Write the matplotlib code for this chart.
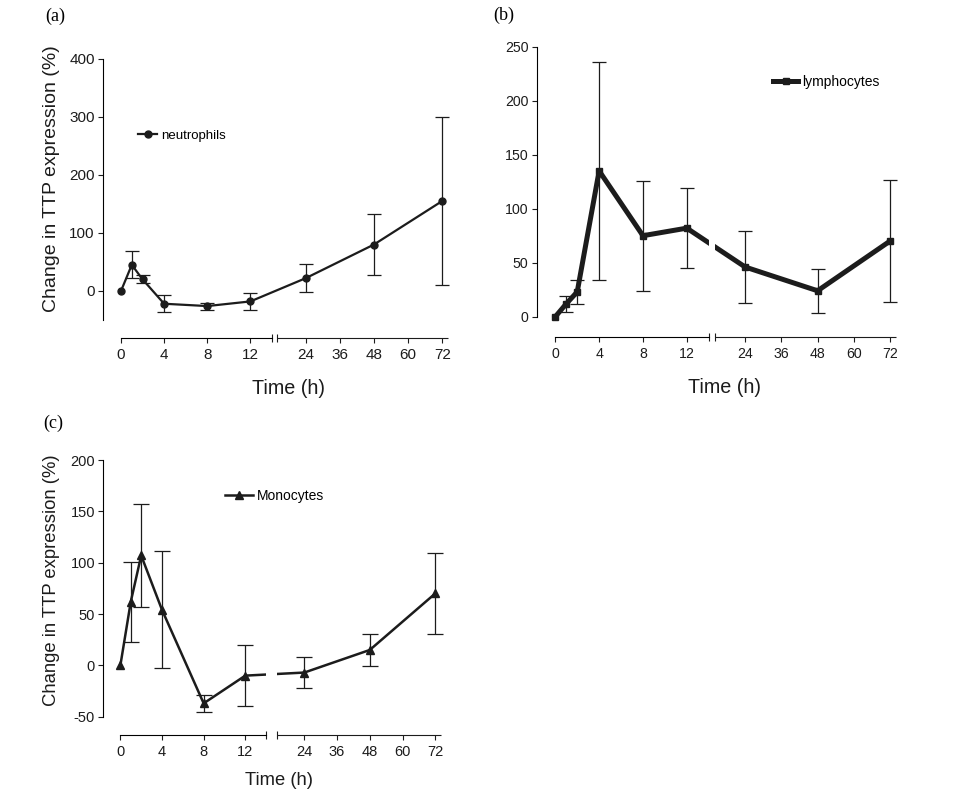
import numpy as np
import matplotlib
matplotlib.use("Agg")
import matplotlib.pyplot as plt
import matplotlib.transforms as mtransforms
from matplotlib.lines import Line2D
from matplotlib.patches import Rectangle

plt.rcParams['font.family'] = ['Liberation Sans', 'DejaVu Sans']

# ---------------- data ----------------
time_h = [0, 1, 2, 4, 8, 12, 24, 48, 72]
x_ticks = [0, 4, 8, 12, 24, 36, 48, 60, 72]

neut_mean = [0, 45, 20, -22, -26, -18, 22, 80, 155]
neut_err = [0, 23, 7, 15, 6, 14, 24, 52, 144]

lymph_mean = [0, 12, 23, 135, 75, 82, 46, 24, 70]
lymph_err = [0, 7.5, 11, 101, 51, 37, 33, 20.5, 56.5]

mono_mean = [0, 62, 107, 54, -37, -10, -7, 15, 70]
mono_err = [0, 39, 50, 57, 8, 30, 15, 16, 39]

neut_yticks = [0, 100, 200, 300, 400]
lymph_yticks = [0, 50, 100, 150, 200, 250]
mono_yticks = [-50, 0, 50, 100, 150, 200]

BRK = 14.0
XMAX = 74.0
W, H = 965, 807
INK = '#1c1c1c'

fig = plt.figure(figsize=(W / 100, H / 100), dpi=100)


def px_rect(left, top, right, bottom):
    return [left / W, 1 - bottom / H, (right - left) / W, (bottom - top) / H]


def panel(rect, means, errs, yticks, ylim, g, r, xmin, offset_pt,
          marker, ms, lw, capsize, tick_fs, label, leg_xy, leg_fs, leg_hl,
          ylabel_xy, ylabel_fs, xlabel_xy, xlabel_fs):
    ax = fig.add_axes(rect)

    def fwd(t):
        t = np.asarray(t, dtype=float)
        return np.where(t <= BRK, t, BRK + g + (t - BRK) * r)

    def inv(p):
        p = np.asarray(p, dtype=float)
        return np.where(p <= BRK, p, BRK + (p - BRK - g) / r)

    ax.set_xscale('function', functions=(fwd, inv))

    # connecting line, drawn in two clipped copies so the break shows a gap
    for x0, x1 in [(xmin - 5, BRK), (BRK + 1e-6, XMAX + 10)]:
        ln, = ax.plot(time_h, means, color=INK, lw=lw, zorder=3)
        clip = Rectangle((x0, -1), x1 - x0, 3, transform=ax.get_xaxis_transform())
        ln.set_clip_path(clip)

    ax.errorbar(time_h, means, yerr=errs, fmt=marker, ms=ms, color=INK,
                ecolor=INK, elinewidth=0.9, capsize=capsize, capthick=0.9,
                errorevery=(1, 1), zorder=4, clip_on=False)

    # axes styling
    for s in ['top', 'right']:
        ax.spines[s].set_visible(False)
    ax.spines['left'].set_linewidth(0.8)
    ax.spines['bottom'].set_linewidth(0.8)
    ax.spines['bottom'].set_position(('outward', offset_pt))
    ax.spines['bottom'].set_bounds(0, BRK)

    trans = ax.get_xaxis_transform() + mtransforms.ScaledTranslation(
        0, -offset_pt / 72, fig.dpi_scale_trans)
    ax.plot([BRK + 1e-6, XMAX], [0, 0], transform=trans, color=INK, lw=0.8,
            clip_on=False, solid_capstyle='butt')
    ax.plot([BRK, BRK + 1e-6], [0, 0], transform=trans, ls='none', marker='|',
            ms=6, mew=0.8, color=INK, clip_on=False)

    ax.set_xticks(x_ticks)
    ax.set_xticklabels([str(v) for v in x_ticks])
    ax.set_yticks(yticks)
    ax.set_yticklabels([str(v) for v in yticks])
    ax.tick_params(direction='out', length=3.4, width=0.8, labelsize=tick_fs,
                   colors=INK)
    ax.tick_params(axis='y', pad=2.5)
    ax.tick_params(axis='x', pad=4)
    ax.minorticks_off()

    ax.set_xlim(xmin, XMAX)
    ax.set_ylim(*ylim)

    ax.set_xlabel('Time (h)', fontsize=xlabel_fs, color=INK)
    ax.xaxis.set_label_coords(*xlabel_xy)
    if ylabel_xy is not None:
        ax.set_ylabel('Change in TTP expression (%)', fontsize=ylabel_fs, color=INK)
        ax.yaxis.set_label_coords(*ylabel_xy)

    h = Line2D([], [], color=INK, lw=lw, marker=marker, ms=ms)
    ax.legend(handles=[h], labels=[label], loc='center left',
              bbox_to_anchor=leg_xy, frameon=False, borderpad=0,
              borderaxespad=0, handlelength=leg_hl, handletextpad=0.3,
              fontsize=leg_fs, numpoints=1)
    return ax


# (a) neutrophils
panel(px_rect(103, 58.7, 448, 320), neut_mean, neut_err, neut_yticks, (-50, 400),
      g=0.49, r=0.264, xmin=-1.67, offset_pt=12.7, marker='o', ms=5, lw=1.6,
      capsize=5, tick_fs=11, label='neutrophils', leg_xy=(0.102, 0.705),
      leg_fs=9.5, leg_hl=1.45, ylabel_xy=(-0.125, 0.542), ylabel_fs=14,
      xlabel_xy=(0.537, -0.224), xlabel_fs=14.2)

# (b) lymphocytes
panel(px_rect(536.7, 46.7, 896, 316.7), lymph_mean, lymph_err, lymph_yticks, (0, 250),
      g=0.58, r=0.2754, xmin=-1.70, offset_pt=14.4, marker='s', ms=5, lw=3.6,
      capsize=5, tick_fs=10.2, label='lymphocytes', leg_xy=(0.658, 0.870),
      leg_fs=10, leg_hl=1.8, ylabel_xy=None, ylabel_fs=14,
      xlabel_xy=(0.524, -0.227), xlabel_fs=14.2)

# (c) monocytes
panel(px_rect(103.3, 460, 440.7, 716.7), mono_mean, mono_err, mono_yticks, (-50, 200),
      g=1.05, r=0.262, xmin=-1.64, offset_pt=13.2, marker='^', ms=6, lw=1.8,
      capsize=5.5, tick_fs=10.5, label='Monocytes', leg_xy=(0.361, 0.861),
      leg_fs=10, leg_hl=2.0, ylabel_xy=(-0.128, 0.532), ylabel_fs=13.3,
      xlabel_xy=(0.52, -0.214), xlabel_fs=13.2)

serif = ['Liberation Serif', 'DejaVu Serif']
fig.text(45 / W, 1 - 16.7 / H, '(a)', family=serif, fontsize=13, va='center', ha='left')
fig.text(493 / W, 1 - 15 / H, '(b)', family=serif, fontsize=13, va='center', ha='left')
fig.text(43 / W, 1 - 423.3 / H, '(c)', family=serif, fontsize=13, va='center', ha='left')

fig.savefig('out.png', dpi=100)
